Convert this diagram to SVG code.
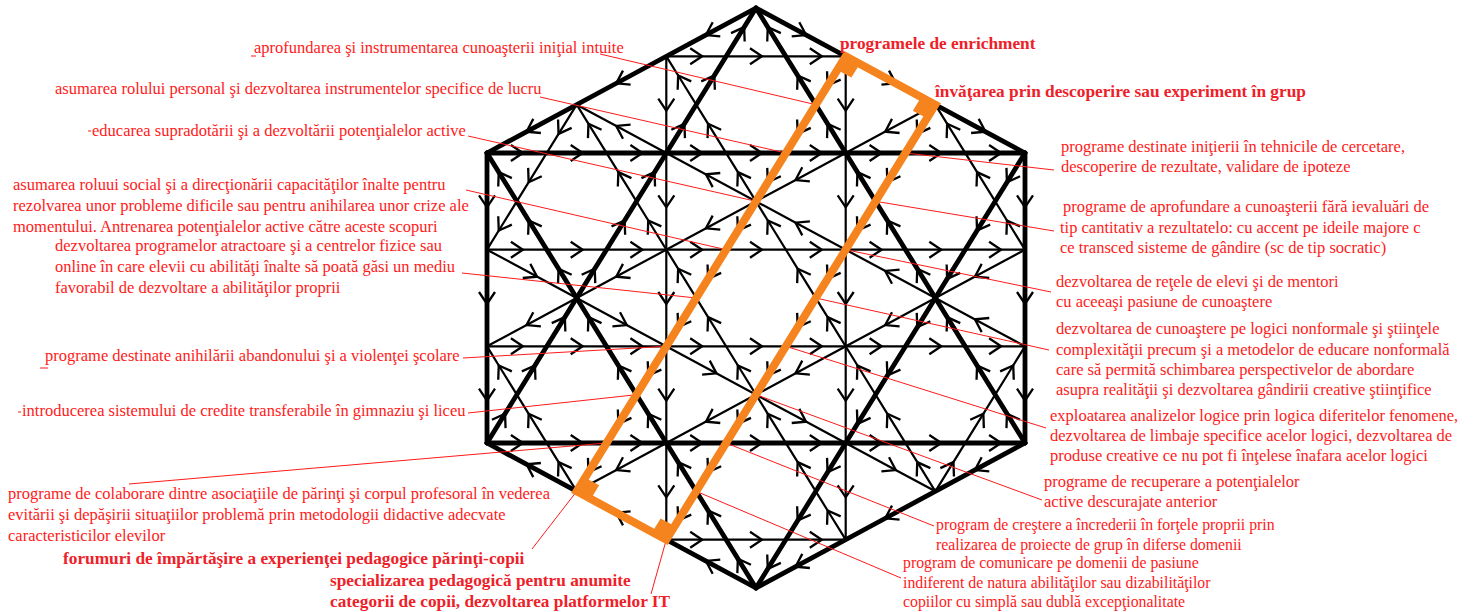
<svg xmlns="http://www.w3.org/2000/svg" width="1473" height="612" viewBox="0 0 1473 612">
<defs>
<marker id="ar" markerUnits="userSpaceOnUse" markerWidth="24" markerHeight="24" viewBox="-12 -12 24 24" refX="0" refY="0" orient="auto" overflow="visible">
<path d="M-6,-8L6,0L-6,8" fill="none" stroke="#000" stroke-width="2.3"/>
</marker>
</defs>
<style>
.tn{fill:none;stroke:#000;stroke-width:2.2;marker-mid:url(#ar)}
.tk{fill:none;stroke:#000;stroke-width:4.8;stroke-linecap:round;stroke-linejoin:round;marker-mid:url(#ar)}
.ld{fill:none;stroke:#ff1a1a;stroke-width:1}
.or{fill:none;stroke:#f5841f;stroke-width:8;stroke-linejoin:miter}
.blob{fill:#f5841f}
text{font-family:"Liberation Serif","Times New Roman",serif;font-size:16.5px;fill:#ff1a1a}
.b{font-weight:bold;font-size:17.3px;fill:#ee2028}
.s{font-size:15.8px}
</style>
<rect width="1473" height="612" fill="#fff"/>
<g id="connectors">
<path class="tk" d="M487 153H516.9H576.7H636.4H696.2H756H815.8H875.6H935.3H995.1H1025"/>
<path class="tn" d="M487 249.7H516.9H576.7H636.4H696.2H756H815.8H875.6H935.3H995.1H1025"/>
<path class="tn" d="M487 346.3H516.9H576.7H636.4H696.2H756H815.8H875.6H935.3H995.1H1025"/>
<path class="tk" d="M487 443H516.9H576.7H636.4H696.2H756H815.8H875.6H935.3H995.1H1025"/>
<path class="tn" d="M666.3 56.3H696.2H756H815.8H845.7"/>
<path class="tn" d="M666.3 539.7H696.2H756H815.8H845.7"/>
<path class="tk" d="M487 153V201.3V298V394.7V443"/>
<path class="tk" d="M1025 153V201.3V298V394.7V443"/>
<path class="tn" d="M666.3 56.3V104.7V201.3V298V394.7V491.3V539.7"/>
<path class="tn" d="M845.7 56.3V104.7V201.3V298V394.7V491.3V539.7"/>
<path class="tk" d="M756 8L711.2 32.2L621.5 80.5L531.8 128.8L487 153"/>
<path class="tk" d="M756 8L800.8 32.2L890.5 80.5L980.2 128.8L1025 153"/>
<path class="tk" d="M1025 443L980.2 467.2L890.5 515.5L800.8 563.8L756 588"/>
<path class="tk" d="M756 588L711.2 563.8L621.5 515.5L531.8 467.2L487 443"/>
<path class="tn" d="M935.3 104.7L890.5 128.8L800.8 177.2L711.2 225.5L621.5 273.8L531.8 322.2L487 346.3"/>
<path class="tn" d="M487 249.7L531.8 273.8L621.5 322.2L711.2 370.5L800.8 418.8L890.5 467.2L935.3 491.3"/>
<path class="tn" d="M1025 346.3L980.2 322.2L890.5 273.8L800.8 225.5L711.2 177.2L621.5 128.8L576.7 104.7"/>
<path class="tn" d="M1025 249.7L980.2 273.8L890.5 322.2L800.8 370.5L711.2 418.8L621.5 467.2L576.7 491.3"/>
<path class="tk" d="M1025 443L1010.1 418.8L980.2 370.5L950.3 322.2L920.4 273.8L890.5 225.5L860.6 177.2L830.7 128.8L800.8 80.5L770.9 32.2L756 8"/>
<path class="tk" d="M756 588L741 563.8L711.2 515.5L681.3 467.2L651.4 418.8L621.5 370.5L591.6 322.2L561.7 273.8L531.8 225.5L501.9 177.2L487 153"/>
<path class="tk" d="M487 443L501.9 418.8L531.8 370.5L561.7 322.2L591.6 273.8L621.5 225.5L651.4 177.2L681.3 128.8L711.2 80.5L741 32.2L756 8"/>
<path class="tk" d="M1025 153L1010.1 177.2L980.2 225.5L950.3 273.8L920.4 322.2L890.5 370.5L860.6 418.8L830.7 467.2L800.8 515.5L770.9 563.8L756 588"/>
<path class="tn" d="M935.3 491.3L920.4 467.2L890.5 418.8L860.6 370.5L830.7 322.2L800.8 273.8L770.9 225.5L741 177.2L711.2 128.8L681.3 80.5L666.3 56.3"/>
<path class="tn" d="M845.7 539.7L830.7 515.5L800.8 467.2L770.9 418.8L741 370.5L711.2 322.2L681.3 273.8L651.4 225.5L621.5 177.2L591.6 128.8L576.7 104.7"/>
<path class="tn" d="M576.7 491.3L561.7 467.2L531.8 418.8L501.9 370.5L487 346.3"/>
<path class="tn" d="M1025 249.7L1010.1 225.5L980.2 177.2L950.3 128.8L935.3 104.7"/>
<path class="tn" d="M576.7 104.7L561.7 128.8L531.8 177.2L501.9 225.5L487 249.7"/>
<path class="tn" d="M845.7 56.3L830.7 80.5L800.8 128.8L770.9 177.2L741 225.5L711.2 273.8L681.3 322.2L651.4 370.5L621.5 418.8L591.6 467.2L576.7 491.3"/>
<path class="tn" d="M935.3 104.7L920.4 128.8L890.5 177.2L860.6 225.5L830.7 273.8L800.8 322.2L770.9 370.5L741 418.8L711.2 467.2L681.3 515.5L666.3 539.7"/>
<path class="tn" d="M935.3 491.3L950.3 467.2L980.2 418.8L1010.1 370.5L1025 346.3"/>
</g>
<g id="leaders">
<path class="ld" d="M600 54L815.8 104.7"/>
<path class="ld" d="M540 97L785.9 153"/>
<path class="ld" d="M468 136L756 201.3"/>
<path class="ld" d="M466 190L726.1 249.7"/>
<path class="ld" d="M462 273L696.2 298"/>
<path class="ld" d="M463 358L666.3 346.3"/>
<path class="ld" d="M468 413L636.4 394.7"/>
<path class="ld" d="M129 484L606.6 443"/>
<path class="ld" d="M532 549L576.7 491.3"/>
<path class="ld" d="M651 594L666.3 539.7"/>
<path class="ld" d="M1054 170L905.4 153"/>
<path class="ld" d="M1054 231L875.6 201.3"/>
<path class="ld" d="M1051 292L845.7 249.7"/>
<path class="ld" d="M1049 350L815.8 298"/>
<path class="ld" d="M1046 428L785.9 346.3"/>
<path class="ld" d="M1042 500L756 394.7"/>
<path class="ld" d="M934 526L726.1 443"/>
<path class="ld" d="M901 578L696.2 491.3"/>
<path class="ld" d="M251 56H256M88 131H91M40 368H48M18 412H21"/>
</g>
<g id="highlight">
<polygon class="or" points="845.7,56.3 935.3,104.7 666.3,539.7 576.7,491.3"/>
<polygon class="blob" points="845.7,56.3 837.3,69.9 851.4,77.5 859.8,63.9"/>
<polygon class="blob" points="935.3,104.7 921.2,97.1 912.8,110.7 926.9,118.3"/>
<polygon class="blob" points="666.3,539.7 674.7,526.1 660.6,518.5 652.2,532.1"/>
<polygon class="blob" points="576.7,491.3 585.1,477.7 599.2,485.3 590.8,498.9"/>
</g>
<g id="n1"><text x="254" y="53">aprofundarea şi instrumentarea cunoaşterii iniţial intuite</text></g>
<g id="n2"><text x="55" y="94">asumarea rolului personal şi dezvoltarea instrumentelor specifice de lucru</text></g>
<g id="n3"><text x="92" y="136">educarea supradotării şi a dezvoltării potenţialelor active</text></g>
<g id="n4"><text x="13" y="190">asumarea roluui social şi a direcţionării capacităţilor înalte pentru</text><text x="13" y="211">rezolvarea unor probleme dificile sau pentru anihilarea unor crize ale</text><text x="13" y="232">momentului. Antrenarea potenţialelor active către aceste scopuri</text></g>
<g id="n5"><text x="55" y="251">dezvoltarea programelor atractoare şi a centrelor fizice sau</text><text x="55" y="272">online în care elevii cu abilităţi înalte să poată găsi un mediu</text><text x="55" y="293">favorabil de dezvoltare a abilităţilor proprii</text></g>
<g id="n6"><text x="45" y="361">programe destinate anihilării abandonului şi a violenţei şcolare</text></g>
<g id="n7"><text x="22" y="416">introducerea sistemului de credite transferabile în gimnaziu şi liceu</text></g>
<g id="n8"><text x="8" y="499">programe de colaborare dintre asociaţiile de părinţi şi corpul profesoral în vederea</text><text x="8" y="520">evitării şi depăşirii situaţiilor problemă prin metodologii didactive adecvate</text><text x="8" y="541">caracteristicilor elevilor</text></g>
<g id="n9"><text class="b" x="63" y="564">forumuri de împărtăşire a experienţei pedagogice părinţi-copii</text></g>
<g id="n10"><text class="b" x="330" y="586">specializarea pedagogică pentru anumite</text><text class="b" x="330" y="607">categorii de copii, dezvoltarea platformelor IT</text></g>
<g id="n11"><text class="b" x="840" y="49">programele de enrichment</text></g>
<g id="n12"><text class="b" x="935" y="97">învăţarea prin descoperire sau experiment în grup</text></g>
<g id="n13"><text x="1061" y="152">programe destinate iniţierii în tehnicile de cercetare,</text><text x="1061" y="172">descoperire de rezultate, validare de ipoteze</text></g>
<g id="n14"><text x="1063" y="212">programe de aprofundare a cunoaşterii fără ievaluări de</text><text x="1060" y="233">tip cantitativ a rezultatelo:  cu accent pe ideile majore c</text><text x="1060" y="253">ce transced sisteme de gândire (sc de tip socratic)</text></g>
<g id="n15"><text x="1056" y="287">dezvoltarea de reţele de elevi şi de mentori</text><text x="1056" y="307">cu aceeaşi pasiune de cunoaştere</text></g>
<g id="n16"><text x="1056" y="334">dezvoltarea de cunoaştere pe logici nonformale şi ştiinţele</text><text x="1056" y="355">complexităţii precum şi a metodelor de educare nonformală</text><text x="1056" y="375">care să permită schimbarea perspectivelor de abordare</text><text x="1056" y="395">asupra realităţii şi dezvoltarea gândirii creative ştiinţifice</text></g>
<g id="n17"><text x="1050" y="421">exploatarea analizelor logice prin logica diferitelor fenomene,</text><text x="1050" y="441">dezvoltarea de limbaje specifice acelor logici, dezvoltarea de</text><text x="1050" y="461">produse creative ce nu pot fi înţelese înafara acelor logici</text></g>
<g id="n18"><text x="1044" y="487">programe de recuperare a potenţialelor</text><text x="1044" y="507">active descurajate anterior</text></g>
<g id="n19"><text class="s" x="936" y="530">program de creştere a încrederii în forţele proprii prin</text><text class="s" x="936" y="550">realizarea de proiecte de grup în diferse domenii</text></g>
<g id="n20"><text class="s" x="903" y="568">program de comunicare pe domenii de pasiune</text><text class="s" x="903" y="588">indiferent de natura abilităţilor sau dizabilităţilor</text><text class="s" x="903" y="607">copiilor cu simplă sau dublă excepţionalitate</text></g>
</svg>
